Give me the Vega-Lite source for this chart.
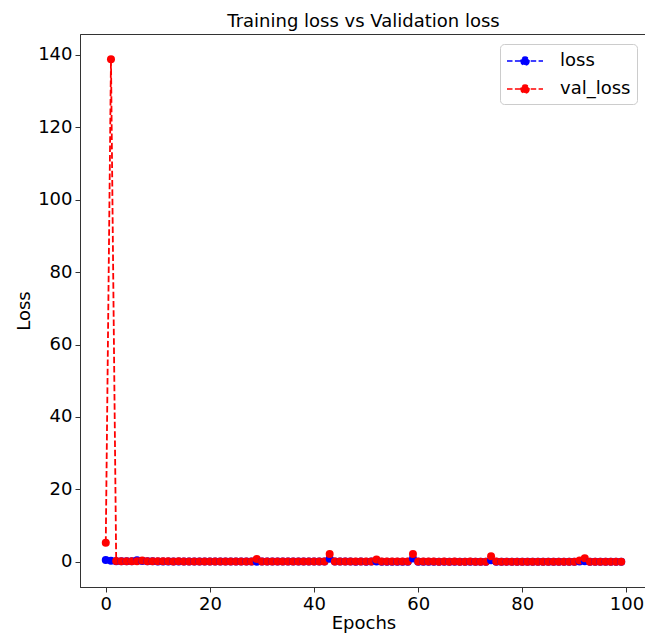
{
  "$schema": "https://vega.github.io/schema/vega-lite/v6.json",
  "width": 567,
  "height": 553,
  "autosize": {"type": "none"},
  "padding": {"left": 80, "top": 34, "right": 0, "bottom": 49},
  "background": "white",
  "title": {
    "text": "Training loss vs Validation loss",
    "font": "DejaVu Sans",
    "fontSize": 18,
    "fontWeight": "normal",
    "color": "#000000",
    "offset": 3
  },
  "data": {
    "values": [
      {"epoch": 0, "loss": 0.52, "val_loss": 5.3},
      {"epoch": 1, "loss": 0.28, "val_loss": 138.8},
      {"epoch": 2, "loss": 0.18, "val_loss": 0.25},
      {"epoch": 3, "loss": 0.15, "val_loss": 0.2},
      {"epoch": 4, "loss": 0.14, "val_loss": 0.18},
      {"epoch": 5, "loss": 0.2, "val_loss": 0.17},
      {"epoch": 6, "loss": 0.42, "val_loss": 0.2},
      {"epoch": 7, "loss": 0.25, "val_loss": 0.35},
      {"epoch": 8, "loss": 0.16, "val_loss": 0.16},
      {"epoch": 9, "loss": 0.14, "val_loss": 0.15},
      {"epoch": 10, "loss": 0.13, "val_loss": 0.15},
      {"epoch": 11, "loss": 0.12, "val_loss": 0.14},
      {"epoch": 12, "loss": 0.13, "val_loss": 0.14},
      {"epoch": 13, "loss": 0.12, "val_loss": 0.13},
      {"epoch": 14, "loss": 0.11, "val_loss": 0.14},
      {"epoch": 15, "loss": 0.12, "val_loss": 0.13},
      {"epoch": 16, "loss": 0.11, "val_loss": 0.12},
      {"epoch": 17, "loss": 0.1, "val_loss": 0.13},
      {"epoch": 18, "loss": 0.11, "val_loss": 0.12},
      {"epoch": 19, "loss": 0.1, "val_loss": 0.12},
      {"epoch": 20, "loss": 0.1, "val_loss": 0.11},
      {"epoch": 21, "loss": 0.11, "val_loss": 0.12},
      {"epoch": 22, "loss": 0.1, "val_loss": 0.11},
      {"epoch": 23, "loss": 0.09, "val_loss": 0.11},
      {"epoch": 24, "loss": 0.1, "val_loss": 0.12},
      {"epoch": 25, "loss": 0.09, "val_loss": 0.11},
      {"epoch": 26, "loss": 0.1, "val_loss": 0.1},
      {"epoch": 27, "loss": 0.09, "val_loss": 0.11},
      {"epoch": 28, "loss": 0.09, "val_loss": 0.1},
      {"epoch": 29, "loss": 0.05, "val_loss": 0.82},
      {"epoch": 30, "loss": 0.09, "val_loss": 0.1},
      {"epoch": 31, "loss": 0.08, "val_loss": 0.1},
      {"epoch": 32, "loss": 0.09, "val_loss": 0.11},
      {"epoch": 33, "loss": 0.08, "val_loss": 0.1},
      {"epoch": 34, "loss": 0.08, "val_loss": 0.09},
      {"epoch": 35, "loss": 0.09, "val_loss": 0.1},
      {"epoch": 36, "loss": 0.08, "val_loss": 0.09},
      {"epoch": 37, "loss": 0.08, "val_loss": 0.1},
      {"epoch": 38, "loss": 0.07, "val_loss": 0.09},
      {"epoch": 39, "loss": 0.08, "val_loss": 0.09},
      {"epoch": 40, "loss": 0.07, "val_loss": 0.1},
      {"epoch": 41, "loss": 0.08, "val_loss": 0.09},
      {"epoch": 42, "loss": 0.07, "val_loss": 0.09},
      {"epoch": 43, "loss": 0.85, "val_loss": 2.2},
      {"epoch": 44, "loss": 0.08, "val_loss": 0.1},
      {"epoch": 45, "loss": 0.07, "val_loss": 0.09},
      {"epoch": 46, "loss": 0.07, "val_loss": 0.08},
      {"epoch": 47, "loss": 0.07, "val_loss": 0.09},
      {"epoch": 48, "loss": 0.06, "val_loss": 0.08},
      {"epoch": 49, "loss": 0.07, "val_loss": 0.08},
      {"epoch": 50, "loss": 0.06, "val_loss": 0.09},
      {"epoch": 51, "loss": 0.07, "val_loss": 0.08},
      {"epoch": 52, "loss": 0.12, "val_loss": 0.62},
      {"epoch": 53, "loss": 0.06, "val_loss": 0.08},
      {"epoch": 54, "loss": 0.06, "val_loss": 0.07},
      {"epoch": 55, "loss": 0.06, "val_loss": 0.08},
      {"epoch": 56, "loss": 0.06, "val_loss": 0.07},
      {"epoch": 57, "loss": 0.06, "val_loss": 0.08},
      {"epoch": 58, "loss": 0.05, "val_loss": 0.07},
      {"epoch": 59, "loss": 0.95, "val_loss": 2.2},
      {"epoch": 60, "loss": 0.06, "val_loss": 0.08},
      {"epoch": 61, "loss": 0.05, "val_loss": 0.07},
      {"epoch": 62, "loss": 0.05, "val_loss": 0.07},
      {"epoch": 63, "loss": 0.06, "val_loss": 0.07},
      {"epoch": 64, "loss": 0.05, "val_loss": 0.06},
      {"epoch": 65, "loss": 0.05, "val_loss": 0.07},
      {"epoch": 66, "loss": 0.05, "val_loss": 0.06},
      {"epoch": 67, "loss": 0.05, "val_loss": 0.07},
      {"epoch": 68, "loss": 0.05, "val_loss": 0.06},
      {"epoch": 69, "loss": 0.04, "val_loss": 0.06},
      {"epoch": 70, "loss": 0.05, "val_loss": 0.07},
      {"epoch": 71, "loss": 0.05, "val_loss": 0.06},
      {"epoch": 72, "loss": 0.04, "val_loss": 0.06},
      {"epoch": 73, "loss": 0.05, "val_loss": 0.06},
      {"epoch": 74, "loss": 0.45, "val_loss": 1.55},
      {"epoch": 75, "loss": 0.05, "val_loss": 0.07},
      {"epoch": 76, "loss": 0.04, "val_loss": 0.06},
      {"epoch": 77, "loss": 0.04, "val_loss": 0.06},
      {"epoch": 78, "loss": 0.04, "val_loss": 0.05},
      {"epoch": 79, "loss": 0.04, "val_loss": 0.06},
      {"epoch": 80, "loss": 0.04, "val_loss": 0.05},
      {"epoch": 81, "loss": 0.04, "val_loss": 0.06},
      {"epoch": 82, "loss": 0.04, "val_loss": 0.05},
      {"epoch": 83, "loss": 0.04, "val_loss": 0.05},
      {"epoch": 84, "loss": 0.04, "val_loss": 0.06},
      {"epoch": 85, "loss": 0.04, "val_loss": 0.05},
      {"epoch": 86, "loss": 0.03, "val_loss": 0.05},
      {"epoch": 87, "loss": 0.04, "val_loss": 0.05},
      {"epoch": 88, "loss": 0.04, "val_loss": 0.06},
      {"epoch": 89, "loss": 0.03, "val_loss": 0.05},
      {"epoch": 90, "loss": 0.04, "val_loss": 0.05},
      {"epoch": 91, "loss": 0.1, "val_loss": 0.4},
      {"epoch": 92, "loss": 0.15, "val_loss": 1.0},
      {"epoch": 93, "loss": 0.04, "val_loss": 0.05},
      {"epoch": 94, "loss": 0.03, "val_loss": 0.05},
      {"epoch": 95, "loss": 0.03, "val_loss": 0.04},
      {"epoch": 96, "loss": 0.03, "val_loss": 0.05},
      {"epoch": 97, "loss": 0.03, "val_loss": 0.04},
      {"epoch": 98, "loss": 0.03, "val_loss": 0.05},
      {"epoch": 99, "loss": 0.03, "val_loss": 0.04}
    ]
  },
  "transform": [
    {"fold": ["loss", "val_loss"], "as": ["series", "value"]}
  ],
  "encoding": {
    "x": {
      "field": "epoch",
      "type": "quantitative",
      "title": "Epochs",
      "scale": {"domain": [-4.95, 103.95], "nice": false, "zero": false},
      "axis": {"values": [0, 20, 40, 60, 80, 100], "titlePadding": 1}
    },
    "y": {
      "field": "value",
      "type": "quantitative",
      "title": "Loss",
      "scale": {"domain": [-6.94, 145.74], "nice": false, "zero": false},
      "axis": {"values": [0, 20, 40, 60, 80, 100, 120, 140], "titlePadding": 4}
    },
    "color": {
      "field": "series",
      "type": "nominal",
      "scale": {"domain": ["loss", "val_loss"], "range": ["#0000ff", "#ff0000"]},
      "legend": {
        "title": null,
        "orient": "none",
        "legendX": 420,
        "legendY": 10,
        "symbolType": "M-1.8,0H1.8M0.4,0A0.4,0.4,0,1,1,-0.4,0A0.4,0.4,0,1,1,0.4,0Z",
        "symbolSize": 400,
        "symbolStrokeWidth": 1.6,
        "symbolDash": [5.5, 2.4],
        "symbolOpacity": 1,
        "symbolOffset": 8,
        "labelOffset": 24,
        "labelFont": "DejaVu Sans",
        "labelFontSize": 18,
        "labelColor": "#000000",
        "rowPadding": 8,
        "padding": 6,
        "strokeColor": "#cccccc",
        "fillColor": "rgba(255,255,255,0.8)",
        "cornerRadius": 4,
        "encode": {
          "symbols": {
            "update": {
              "fill": {"scale": "color", "field": "value"},
              "stroke": {"scale": "color", "field": "value"}
            }
          }
        }
      }
    }
  },
  "layer": [
    {
      "mark": {"type": "line", "strokeWidth": 1.8, "strokeDash": [6.5, 2.8], "clip": true}
    },
    {
      "mark": {"type": "point", "shape": "circle", "filled": true, "size": 64, "opacity": 1, "clip": true}
    }
  ],
  "config": {
    "font": "DejaVu Sans",
    "view": {"stroke": "#333333", "strokeWidth": 1},
    "axis": {
      "grid": false,
      "domainColor": "#333333",
      "domainWidth": 1,
      "tickColor": "#333333",
      "tickSize": 5,
      "tickWidth": 1,
      "labelFont": "DejaVu Sans",
      "labelFontSize": 18,
      "labelColor": "#000000",
      "labelPadding": 3,
      "titleFont": "DejaVu Sans",
      "titleFontSize": 18,
      "titleFontWeight": "normal",
      "titleColor": "#000000"
    }
  }
}
